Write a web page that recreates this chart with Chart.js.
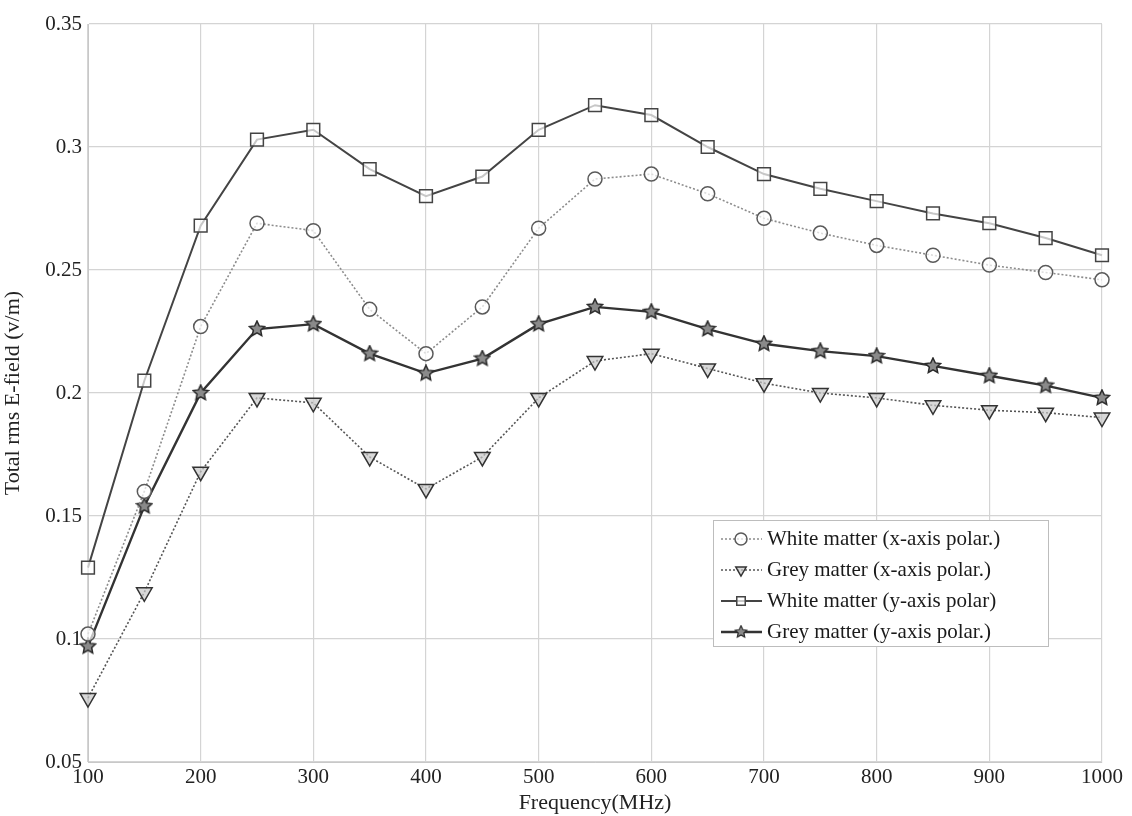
<!DOCTYPE html>
<html>
<head>
<meta charset="utf-8">
<title>Total rms E-field vs frequency</title>
<script src="https://cdn.jsdelivr.net/npm/chart.js@4.4.0/dist/chart.umd.min.js"></script>
<style>
  html, body { margin: 0; padding: 0; background: #fff; }
  #wrap { width: 1132px; height: 816px; position: relative; }
</style>
</head>
<body>
<div id="wrap"><canvas id="efieldChart"></canvas></div>
<script>
// frequencies (MHz)
const freqs = [100, 150, 200, 250, 300, 350, 400, 450, 500, 550, 600, 650, 700, 750, 800, 850, 900, 950, 1000];

// total rms E-field values (v/m)
const whiteX = [0.102, 0.160, 0.227, 0.269, 0.266, 0.234, 0.216, 0.235, 0.267, 0.287, 0.289, 0.281, 0.271, 0.265, 0.260, 0.256, 0.252, 0.249, 0.246];
const greyX  = [0.076, 0.119, 0.168, 0.198, 0.196, 0.174, 0.161, 0.174, 0.198, 0.213, 0.216, 0.210, 0.204, 0.200, 0.198, 0.195, 0.193, 0.192, 0.190];
const whiteY = [0.129, 0.205, 0.268, 0.303, 0.307, 0.291, 0.280, 0.288, 0.307, 0.317, 0.313, 0.300, 0.289, 0.283, 0.278, 0.273, 0.269, 0.263, 0.256];
const greyY  = [0.097, 0.154, 0.200, 0.226, 0.228, 0.216, 0.208, 0.214, 0.228, 0.235, 0.233, 0.226, 0.220, 0.217, 0.215, 0.211, 0.207, 0.203, 0.198];

const seriesLabels = [
    'White matter (x-axis polar.)',
    'Grey matter (x-axis polar.)',
    'White matter (y-axis polar)',
    'Grey matter (y-axis polar.)'
];

const xTicks = [100, 200, 300, 400, 500, 600, 700, 800, 900, 1000];
const yTicks = [0.05, 0.1, 0.15, 0.2, 0.25, 0.3, 0.35];

const serif = '"Liberation Serif", "DejaVu Serif", serif';

// pentagram marker, drawn once on a small canvas
function makeStar(size) {
    const c = document.createElement('canvas');
    c.width = size; c.height = size;
    const g = c.getContext('2d');
    const cx = size / 2, cy = size / 2, R = size / 2 - 1, r = R * 0.48;
    g.beginPath();
    for (let i = 0; i < 10; i++) {
        const a = -Math.PI / 2 + i * Math.PI / 5;
        const rad = i % 2 === 0 ? R : r;
        g.lineTo(cx + rad * Math.cos(a), cy + rad * Math.sin(a));
    }
    g.closePath();
    g.fillStyle = '#8a8a8a';
    g.fill();
    g.lineWidth = 1.5;
    g.strokeStyle = '#2a2a2a';
    g.stroke();
    return c;
}
const starImg = makeStar(18);

function toPoints(vals) {
    return freqs.map((f, i) => ({ x: f, y: vals[i] }));
}

// legend drawn inside the plot, with line samples
const insideLegend = {
    id: 'insideLegend',
    afterDraw(chart) {
        const ctx = chart.ctx;
        const left = 713, top = 520, w = 335, h = 126;
        ctx.save();
        ctx.fillStyle = '#fff';
        ctx.fillRect(left, top, w, h);
        ctx.strokeStyle = '#bdbdbd';
        ctx.lineWidth = 1;
        ctx.strokeRect(left + 0.5, top + 0.5, w, h);
        ctx.font = '21px ' + serif;
        ctx.textBaseline = 'middle';
        chart.data.datasets.forEach((ds, i) => {
            const y = 539 + i * 31;
            ctx.setLineDash(ds.borderDash || []);
            ctx.strokeStyle = ds.borderColor;
            ctx.lineWidth = ds.borderWidth;
            ctx.beginPath();
            ctx.moveTo(721, y);
            ctx.lineTo(762, y);
            ctx.stroke();
            ctx.setLineDash([]);
            const opts = {
                pointStyle: ds.pointStyle,
                rotation: ds.pointRotation || 0,
                radius: 6,
                borderWidth: ds.pointBorderWidth
            };
            ctx.fillStyle = ds.pointBackgroundColor;
            ctx.strokeStyle = ds.pointBorderColor;
            ctx.lineWidth = ds.pointBorderWidth;
            if (ds.pointStyle instanceof HTMLCanvasElement) {
                ctx.drawImage(ds.pointStyle, 741 - 7, y - 7, 14, 14);
            } else if (Chart.helpers && Chart.helpers.drawPoint) {
                Chart.helpers.drawPoint(ctx, opts, 741, y);
            }
            ctx.fillStyle = '#1a1a1a';
            ctx.fillText(ds.label, 767, y);
        });
        ctx.restore();
    }
};

document.addEventListener('DOMContentLoaded', function () {
    const ctx = document.getElementById('efieldChart').getContext('2d');
    const efieldChart = new Chart(ctx, {
        type: 'line',
        data: {
            datasets: [{
                label: seriesLabels[0],
                data: toPoints(whiteX),
                borderColor: '#8c8c8c',
                borderWidth: 1.6,
                borderDash: [2, 2],
                pointStyle: 'circle',
                pointRadius: 7,
                pointBorderWidth: 1.5,
                pointBorderColor: '#5a5a5a',
                pointBackgroundColor: 'rgba(255,255,255,0.7)',
                clip: false
            }, {
                label: seriesLabels[1],
                data: toPoints(greyX),
                borderColor: '#555',
                borderWidth: 1.6,
                borderDash: [2, 2],
                pointStyle: 'triangle',
                pointRotation: 180,
                pointRadius: 9,
                pointBorderWidth: 1.5,
                pointBorderColor: '#333',
                pointBackgroundColor: 'rgba(200,200,200,0.7)',
                clip: false
            }, {
                label: seriesLabels[2],
                data: toPoints(whiteY),
                borderColor: '#444',
                borderWidth: 2,
                pointStyle: 'rect',
                pointRadius: 9,
                pointBorderWidth: 1.5,
                pointBorderColor: '#444',
                pointBackgroundColor: 'rgba(255,255,255,0.7)',
                clip: false
            }, {
                label: seriesLabels[3],
                data: toPoints(greyY),
                borderColor: '#333',
                borderWidth: 2.4,
                pointStyle: starImg,
                pointRadius: 9,
                pointBorderWidth: 1.5,
                pointBorderColor: '#2a2a2a',
                pointBackgroundColor: '#8a8a8a',
                clip: false
            }]
        },
        options: {
            responsive: true,
            maintainAspectRatio: false,
            animation: false,
            layout: { padding: { top: 24, right: 30, left: 0, bottom: 0 } },
            plugins: {
                legend: { display: false },
                tooltip: { enabled: false }
            },
            scales: {
                x: {
                    type: 'linear',
                    min: 100,
                    max: 1000,
                    afterBuildTicks: (scale) => { scale.ticks = xTicks.map(v => ({ value: v })); },
                    afterFit: (scale) => { scale.height = 54; },
                    grid: { color: '#d4d4d4', lineWidth: 1.2, drawTicks: false },
                    border: { color: '#c8c8c8' },
                    ticks: {
                        color: '#222',
                        padding: 3,
                        maxRotation: 0,
                        font: { family: serif, size: 21 },
                        callback: (v) => String(v)
                    },
                    title: {
                        display: true,
                        text: 'Frequency(MHz)',
                        color: '#222',
                        padding: { top: 0, bottom: 0 },
                        font: { family: serif, size: 22 }
                    }
                },
                y: {
                    min: 0.05,
                    max: 0.35,
                    afterBuildTicks: (scale) => { scale.ticks = yTicks.map(v => ({ value: v })); },
                    afterFit: (scale) => { scale.width = 88; },
                    grid: { color: '#d4d4d4', lineWidth: 1.2, drawTicks: false },
                    border: { color: '#c8c8c8' },
                    ticks: {
                        color: '#222',
                        padding: 6,
                        font: { family: serif, size: 21 },
                        callback: (v) => String(Math.round(v * 100) / 100)
                    },
                    title: {
                        display: true,
                        text: 'Total rms E-field (v/m)',
                        color: '#222',
                        padding: { top: 0, bottom: 0 },
                        font: { family: serif, size: 22 }
                    }
                }
            }
        },
        plugins: [insideLegend]
    });
});
</script>
</body>
</html>
